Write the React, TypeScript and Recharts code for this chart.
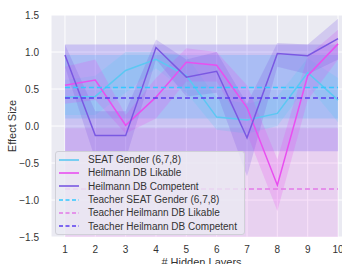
import React from "react";
import {
  ComposedChart,
  Line,
  Area,
  XAxis,
  YAxis,
  CartesianGrid,
  ReferenceArea,
} from "recharts";

const layers = [1, 2, 3, 4, 5, 6, 7, 8, 9, 10];

const seat = [0.39, 0.4, 0.75, 0.9, 0.68, 0.12, 0.08, 0.17, 0.72, 0.35];
const seatLo = [0.15, 0.15, 0.45, 0.78, 0.45, -0.05, -0.1, 0.0, 0.55, 0.05];
const seatHi = [0.62, 0.68, 1.0, 1.0, 0.95, 0.38, 0.3, 0.4, 0.92, 0.65];

const likable = [0.55, 0.62, 0.01, 0.39, 0.86, 0.82, 0.25, -0.8, 0.68, 1.11];
const likableLo = [0.3, 0.35, -0.1, 0.1, 0.6, 0.6, -0.1, -1.15, 0.35, 0.9];
const likableHi = [0.8, 0.9, 0.15, 0.65, 1.05, 1.0, 0.55, -0.45, 0.95, 1.3];

const competent = [0.96, -0.13, -0.13, 1.06, 0.66, 0.74, -0.16, 0.98, 0.95, 1.18];
const competentLo = [0.8, -0.45, -0.45, 0.9, 0.4, 0.45, -0.68, 0.8, 0.7, 0.9];
const competentHi = [1.1, 0.2, 0.2, 1.17, 0.9, 1.0, 0.3, 1.12, 1.1, 1.45];

// teacher: [mean, lo, hi]
const teacherSeat = [0.52, 0.1, 0.96];
const teacherLikable = [-0.85, -1.67, -0.03];
const teacherCompetent = [0.38, -0.34, 1.1];

const yTicks = [-1.5, -1.0, -0.5, 0.0, 0.5, 1.0, 1.5];

const C_SEAT = "#5cc8f2";
const C_LIK = "#e94ff0";
const C_COMP = "#7a58e2";
const C_TSEAT = "#33c8ff";
const C_TLIK = "#e27ae8";
const C_TCOMP = "#5a3cf0";

const legendItems = [
  { label: "SEAT Gender (6,7,8)", color: C_SEAT, dash: false },
  { label: "Heilmann DB Likable", color: C_LIK, dash: false },
  { label: "Heilmann DB Competent", color: C_COMP, dash: false },
  { label: "Teacher SEAT Gender (6,7,8)", color: C_TSEAT, dash: true },
  { label: "Teacher Heilmann DB Likable", color: C_TLIK, dash: true },
  { label: "Teacher Heilmann DB Competent", color: C_TCOMP, dash: true },
];

const data = layers.map((x, i) => ({
  layer: x,
  seat: seat[i],
  seatR: [seatLo[i], seatHi[i]],
  likable: likable[i],
  likableR: [likableLo[i], likableHi[i]],
  competent: competent[i],
  competentR: [competentLo[i], competentHi[i]],
  tSeat: teacherSeat[0],
  tLikable: teacherLikable[0],
  tCompetent: teacherCompetent[0],
}));

const font = "'Liberation Sans', Arial, sans-serif";

function LegendBox() {
  return (
    <div
      style={{
        position: "absolute",
        left: 55,
        top: 151,
        background: "rgba(234,234,242,0.8)",
        border: "1px solid #d0d0d8",
        borderRadius: 3,
        padding: "1px 7px 1px 2px",
        fontFamily: font,
        fontSize: 10,
        color: "#333",
      }}
    >
      {legendItems.map((it) => (
        <div key={it.label} style={{ display: "flex", alignItems: "center", height: 13.3 }}>
          <svg width={24} height={6} style={{ marginRight: 6 }}>
            <line
              x1={1}
              y1={3}
              x2={21}
              y2={3}
              stroke={it.color}
              strokeWidth={1.6}
              strokeDasharray={it.dash ? "4 2.5" : undefined}
            />
          </svg>
          <span style={{ whiteSpace: "nowrap" }}>{it.label}</span>
        </div>
      ))}
    </div>
  );
}

export default function App() {
  return (
    <div style={{ position: "fixed", left: 0, top: 0, width: 342, height: 264, overflow: "hidden", background: "#fff" }}>
      <ComposedChart width={352} height={264} data={data} margin={{ top: 15, right: 0, bottom: 0, left: 0 }}>
        <CartesianGrid fill="#eaeaf2" stroke="#ffffff" strokeWidth={1} />
        <XAxis
          dataKey="layer"
          type="number"
          domain={[0.54, 10.46]}
          ticks={layers}
          height={27}
          axisLine={false}
          tickLine={false}
          tick={{ fontSize: 10, fill: "#333", fontFamily: font }}
          tickMargin={3}
          label={{ value: "# Hidden Layers", position: "insideBottom", offset: -2, fontSize: 11, fill: "#333", fontFamily: font }}
        />
        <YAxis
          type="number"
          domain={[-1.5, 1.5]}
          ticks={yTicks}
          width={51}
          axisLine={false}
          tickLine={false}
          tickFormatter={(v: number) => v.toFixed(1).replace("-", "\u2212")}
          tick={{ fontSize: 10, fill: "#333", fontFamily: font }}
          tickMargin={6}
          label={{ value: "Effect Size", angle: -90, position: "insideLeft", offset: 12, fontSize: 11, fill: "#333", fontFamily: font, style: { textAnchor: "middle" } }}
        />
        <ReferenceArea x1={1} x2={10} y1={teacherSeat[1]} y2={teacherSeat[2]} fill={C_TSEAT} fillOpacity={0.22} stroke="none" ifOverflow="hidden" />
        <ReferenceArea x1={1} x2={10} y1={teacherLikable[1]} y2={teacherLikable[2]} fill={C_TLIK} fillOpacity={0.22} stroke="none" ifOverflow="hidden" />
        <ReferenceArea x1={1} x2={10} y1={teacherCompetent[1]} y2={teacherCompetent[2]} fill={C_TCOMP} fillOpacity={0.22} stroke="none" ifOverflow="hidden" />
        <Area dataKey="seatR" type="linear" stroke="none" fill={C_SEAT} fillOpacity={0.22} isAnimationActive={false} />
        <Area dataKey="likableR" type="linear" stroke="none" fill={C_LIK} fillOpacity={0.22} isAnimationActive={false} />
        <Area dataKey="competentR" type="linear" stroke="none" fill={C_COMP} fillOpacity={0.22} isAnimationActive={false} />
        <Line dataKey="seat" type="linear" stroke={C_SEAT} strokeWidth={1.5} dot={false} isAnimationActive={false} />
        <Line dataKey="likable" type="linear" stroke={C_LIK} strokeWidth={1.5} dot={false} isAnimationActive={false} />
        <Line dataKey="competent" type="linear" stroke={C_COMP} strokeWidth={1.5} dot={false} isAnimationActive={false} />
        <Line dataKey="tSeat" type="linear" stroke={C_TSEAT} strokeWidth={1.5} strokeDasharray="5 3" dot={false} isAnimationActive={false} />
        <Line dataKey="tLikable" type="linear" stroke={C_TLIK} strokeWidth={1.5} strokeDasharray="5 3" dot={false} isAnimationActive={false} />
        <Line dataKey="tCompetent" type="linear" stroke={C_TCOMP} strokeWidth={1.5} strokeDasharray="5 3" dot={false} isAnimationActive={false} />
      </ComposedChart>
      <LegendBox />
    </div>
  );
}
